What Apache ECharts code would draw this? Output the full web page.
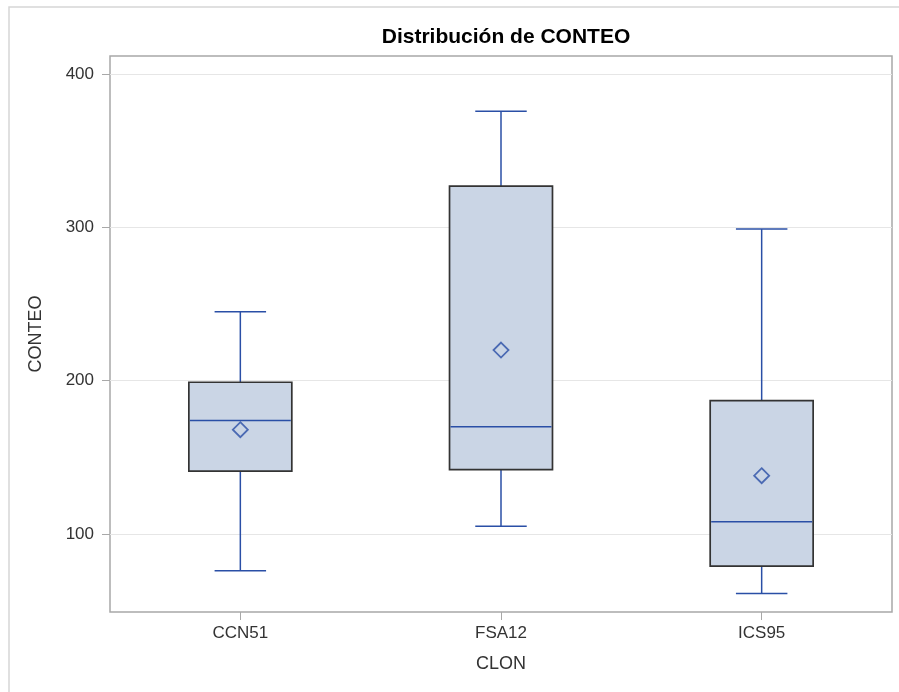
<!DOCTYPE html>
<html>
<head>
<meta charset="utf-8">
<script src="https://cdn.jsdelivr.net/npm/echarts@6/dist/echarts.min.js"></script>
<style>
html,body{margin:0;padding:0;background:#fff;}
#chart{width:899px;height:692px;}
</style>
</head>
<body>
<div id="chart"></div>
<script>
const categories = ['CCN51', 'FSA12', 'ICS95'];
const whiskerLow = [76, 105, 61];
const q1 = [141, 142, 79];
const median = [174, 170, 108];
const q3 = [199, 327, 187];
const whiskerHigh = [245, 376, 299];
const means = [168, 220, 138];
const yTicks = [100, 200, 300, 400];

const BLUE = '#2A4FA6';
const FILL = '#CAD5E5';
const EDGE = '#333333';
const FONT = 'Liberation Sans, Arial, sans-serif';

const boxData = categories.map((c, i) => [i, whiskerLow[i], q1[i], median[i], q3[i], whiskerHigh[i]]);
const meanData = categories.map((c, i) => [i, means[i]]);

function renderBox(params, api) {
  const idx = api.value(0);
  const lo = api.coord([idx, api.value(1)]);
  const b1 = api.coord([idx, api.value(2)]);
  const md = api.coord([idx, api.value(3)]);
  const b3 = api.coord([idx, api.value(4)]);
  const hi = api.coord([idx, api.value(5)]);
  const band = api.size([1, 0])[0];
  const bw = band * 0.395;
  const cw = bw * 0.5;
  const x = lo[0];
  const ls = { stroke: BLUE, lineWidth: 1.5 };
  return {
    type: 'group',
    children: [
      { type: 'line', shape: { x1: x, y1: hi[1], x2: x, y2: b3[1] }, style: ls },
      { type: 'line', shape: { x1: x, y1: b1[1], x2: x, y2: lo[1] }, style: ls },
      { type: 'line', shape: { x1: x - cw / 2, y1: hi[1], x2: x + cw / 2, y2: hi[1] }, style: ls },
      { type: 'line', shape: { x1: x - cw / 2, y1: lo[1], x2: x + cw / 2, y2: lo[1] }, style: ls },
      { type: 'rect', shape: { x: x - bw / 2, y: b3[1], width: bw, height: b1[1] - b3[1] },
        style: { fill: FILL, stroke: EDGE, lineWidth: 1.7 } },
      { type: 'line', shape: { x1: x - bw / 2 + 1, y1: md[1], x2: x + bw / 2 - 1, y2: md[1] }, style: ls }
    ]
  };
}

const chart = echarts.init(document.getElementById('chart'), null, { renderer: 'canvas' });
chart.setOption({
  backgroundColor: '#ffffff',
  animation: false,
  textStyle: { fontFamily: FONT },
  title: {
    text: 'Distribución de CONTEO',
    left: 501, top: 22, textAlign: 'center',
    textStyle: { fontFamily: FONT, fontWeight: 'bold', fontSize: 21, color: '#000' }
  },
  graphic: [{
    type: 'rect', silent: true, z: -10,
    shape: { x: 9, y: 7, width: 1200, height: 1200 },
    style: { fill: 'none', stroke: '#d6d6d6', lineWidth: 1.5 }
  }],
  grid: {
    left: 110, right: 7, top: 56, bottom: 80,
    show: true, borderColor: '#a8a8a8', borderWidth: 1.5, backgroundColor: 'transparent'
  },
  xAxis: {
    type: 'category',
    data: categories,
    name: 'CLON',
    nameLocation: 'middle',
    nameGap: 43,
    nameTextStyle: { fontSize: 18, color: '#333', fontFamily: FONT },
    axisLine: { show: false },
    axisTick: { show: true, alignWithLabel: true, length: 8, lineStyle: { color: '#a8a8a8' } },
    axisLabel: { fontSize: 17, color: '#333', margin: 13, fontFamily: FONT },
    splitLine: { show: false }
  },
  yAxis: {
    type: 'value',
    min: 49, max: 412,
    name: 'CONTEO',
    nameLocation: 'middle',
    nameGap: 65,
    nameRotate: 90,
    nameTextStyle: { fontSize: 18, color: '#333', fontFamily: FONT },
    axisLine: { show: false },
    axisTick: { show: true, length: 8, customValues: yTicks, lineStyle: { color: '#a8a8a8' } },
    axisLabel: { fontSize: 17, color: '#333', margin: 16, customValues: yTicks, fontFamily: FONT },
    splitLine: { show: true, lineStyle: { color: '#e6e6e6', width: 1 } }
  },
  series: [
    {
      type: 'custom',
      name: 'box',
      renderItem: renderBox,
      data: boxData,
      encode: { x: 0, y: [1, 2, 3, 4, 5] },
      z: 2
    },
    {
      type: 'scatter',
      name: 'mean',
      data: meanData,
      symbol: 'diamond',
      symbolSize: [15, 15],
      itemStyle: { color: 'rgba(0,0,0,0)', borderColor: BLUE, borderWidth: 1.8 },
      z: 3
    }
  ]
});
</script>
</body>
</html>
